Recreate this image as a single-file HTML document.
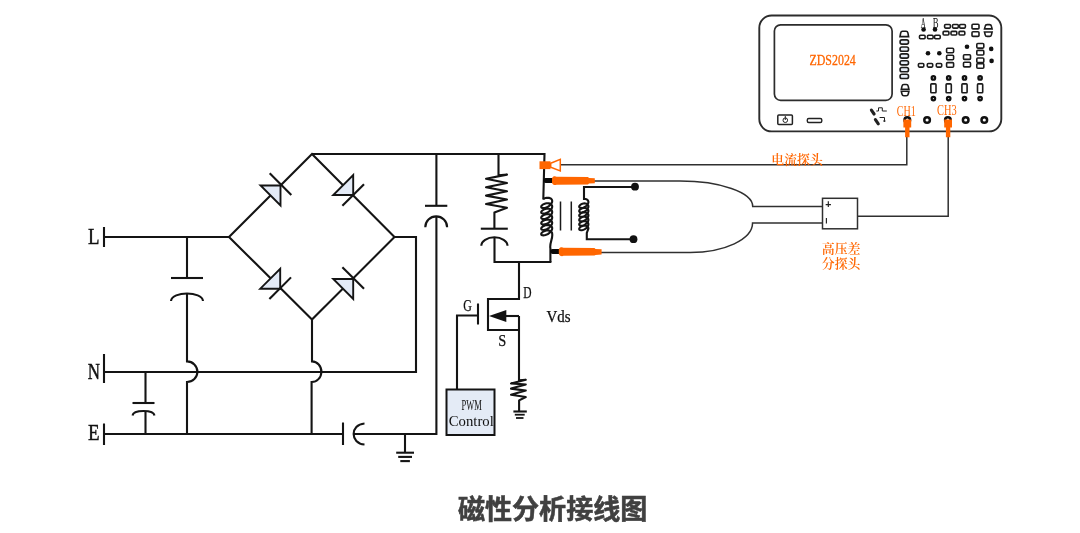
<!DOCTYPE html>
<html lang="zh-CN">
<head>
<meta charset="utf-8">
<title>磁性分析接线图</title>
<style>
html,body{margin:0;padding:0;background:#fff;}
body{width:1080px;height:533px;overflow:hidden;position:relative;}
svg{display:block;position:absolute;left:0;top:0;will-change:transform;}
.w{fill:none;stroke:#141414;stroke-width:2.100;stroke-linecap:butt;stroke-linejoin:miter;}
.t{fill:none;stroke:#303030;stroke-width:1.500;}
.d{fill:#e3eaf6;stroke:#141414;stroke-width:1.9;stroke-linejoin:miter;}
.lat{font-family:"Liberation Serif","Noto Serif CJK SC",serif;fill:#111;}
.cjk{font-family:"Liberation Serif","Noto Serif CJK SC",serif;fill:#ff6600;font-weight:600;}
.ol{font-family:"Liberation Serif","Noto Serif CJK SC",serif;fill:#ff6600;font-weight:400;}
.or{fill:#ff6600;}
.sb{fill:#fff;stroke:#1c1c1c;stroke-width:1.6;}
.sbb{fill:#e6edf7;stroke:#1c1c1c;stroke-width:1.6;}
.dot{fill:#111;}
h1{position:absolute;left:0;top:489.700px;width:1105.300px;margin:0;text-align:center;font-family:"Liberation Sans","Noto Sans CJK SC",sans-serif;font-weight:700;font-size:27.070px;line-height:40px;color:#404040;letter-spacing:0;will-change:transform;-webkit-text-stroke:0.55px #404040;}
</style>
</head>
<body>
<svg width="1080" height="533" viewBox="0 0 1080 533">

<g class="w">
<path d="M104,227V247"/>
<path d="M104,237H229"/>
<path d="M229,237L312,154L394.5,237L312,319.5Z"/>
<path d="M312,154H544.500L543.300,199.500"/>
<path d="M394.5,237H416V372H104"/>
<path d="M104,354V383"/>
<path d="M104,423.5V445"/>
<path d="M104,434H343"/>
<path d="M343,422.5V445"/>
<path d="M187,237V278"/>
<path d="M171,278H203"/>
<path d="M171,301C172,291 202,291 203,301"/>
<path d="M187,293.5V361.400A10.4,10.3 0 0 1 187,382V434"/>
<path d="M312,319.5V361.400A9.600,10.3 0 0 1 311.600,382V434"/>
<path d="M145.5,372V403"/>
<path d="M132.5,403H154.5"/>
<path d="M132.5,415.5C133.5,409.5 153.5,409.5 154.5,415.5"/>
<path d="M145.5,411V434"/>
<path d="M436.400,154V205.800"/>
<path d="M425,205.800H447.300"/>
<path d="M425.300,227.200A10.900,10.800 0 0 1 447.100,227.200"/>
<path d="M436.400,216.400V434H354"/>
<path d="M364.5,423.5C350,424.5 350,443.5 364.5,444.5"/>
<path d="M405,434V452.700"/>
<path d="M396.200,452.700H414"/>
<path d="M398.200,456.900H412"/>
<path d="M400.300,461.100H409.900"/>
<path stroke-linejoin="round" d="M498.5,154V175.200L507,174.600L486,178.700L507,183L486,187.200L507,191.300L486,195.600L507,199.500L486,204L507,207.800L494.400,212.400V228.5"/>
<path d="M480.800,228.700H507.800"/>
<path d="M481.300,245.800A13.100,8.500 0 0 1 507.500,245.800"/>
<path d="M494.5,237.300V262H551.400"/>
<path d="M519,262V299H488V330H519"/>
<path d="M519,316H505"/>
<path d="M519,316V380.300L525.800,379.800L511,383.400L525.800,384.500L511,388.600L525.800,390.600L511,394.700L525.800,397L519.100,400.400V411.500" stroke-linejoin="round"/>
<path d="M513.400,411.500H526.800"/>
<path d="M514.800,414.700H524.700" stroke-width="1.8"/>
<path d="M516,418H523.500" stroke-width="1.8"/>
<path d="M478,303.5V324.500"/>
<path d="M478,315.500H457V390"/>
</g>
<path d="M489,316L506.300,309.900V322.100Z" fill="#111"/>
<path class="d" d="M280.50,185.50L280.50,205.44L260.56,185.50Z"/><path class="w" stroke-width="1.9" d="M291.32,194.92L269.68,173.28"/>
<path class="d" d="M353.20,195.00L333.26,195.00L353.20,175.06Z"/><path class="w" stroke-width="1.9" d="M342.38,205.82L364.02,184.18"/>
<path class="d" d="M280.20,288.70L260.26,288.70L280.20,268.76Z"/><path class="w" stroke-width="1.9" d="M269.38,299.02L291.02,277.38"/>
<path class="d" d="M353.20,279.00L353.20,298.94L333.26,279.00Z"/><path class="w" stroke-width="1.9" d="M364.02,288.82L342.38,267.18"/>
<rect x="446.5" y="389.500" width="48" height="45.500" fill="#e4ebf6" stroke="#141414" stroke-width="2"/>
<path class="w" stroke-width="2" stroke-linejoin="round" d="M543.20,198.96 L544.23,198.46 L545.39,198.08 L546.61,197.84 L547.84,197.77 L549.01,197.89 L550.06,198.19 L550.94,198.67 L551.62,199.32 L552.04,200.12 L552.20,201.02 L552.08,202.01 L551.69,203.03 L551.05,204.05 L550.20,205.03 L549.16,205.92 L548.01,206.69 L546.78,207.32 L545.56,207.77 L544.39,208.05 L543.34,208.13 L542.45,208.04 L541.78,207.78 L541.36,207.37 L541.20,206.85 L541.32,206.26 L541.71,205.62 L542.35,204.99 L543.21,204.41 L544.24,203.91 L545.40,203.52 L546.62,203.29 L547.85,203.22 L549.02,203.34 L550.07,203.65 L550.95,204.13 L551.62,204.78 L552.05,205.58 L552.20,206.49 L552.08,207.47 L551.69,208.50 L551.04,209.52 L550.18,210.49 L549.15,211.38 L547.99,212.15 L546.77,212.77 L545.54,213.23 L544.38,213.50 L543.32,213.58 L542.44,213.49 L541.77,213.22 L541.35,212.82 L541.20,212.30 L541.32,211.70 L541.72,211.07 L542.36,210.44 L543.22,209.85 L544.26,209.35 L545.42,208.97 L546.64,208.74 L547.86,208.67 L549.03,208.79 L550.08,209.10 L550.96,209.59 L551.63,210.24 L552.05,211.04 L552.20,211.95 L552.07,212.93 L551.68,213.96 L551.04,214.98 L550.17,215.95 L549.14,216.84 L547.98,217.61 L546.75,218.23 L545.53,218.68 L544.36,218.95 L543.31,219.03 L542.43,218.93 L541.77,218.67 L541.35,218.26 L541.20,217.74 L541.33,217.14 L541.72,216.51 L542.37,215.88 L543.23,215.29 L544.27,214.80 L545.43,214.42 L546.65,214.19 L547.88,214.12 L549.04,214.25 L550.09,214.56 L550.97,215.04 L551.64,215.70 L552.05,216.50 L552.20,217.41 L552.07,218.40 L551.67,219.42 L551.03,220.44 L550.16,221.41 L549.12,222.30 L547.96,223.07 L546.74,223.69 L545.51,224.14 L544.35,224.40 L543.30,224.48 L542.42,224.38 L541.76,224.11 L541.35,223.71 L541.20,223.18 L541.33,222.59 L541.73,221.95 L542.38,221.32 L543.24,220.74 L544.28,220.24 L545.44,219.86 L546.67,219.63 L547.89,219.57 L549.06,219.70 L550.10,220.01 L550.98,220.50 L551.64,221.16 L552.06,221.96 L552.20,222.87 L552.07,223.86 L551.67,224.88 L551.02,225.90 L550.15,226.87 L549.11,227.76 L547.95,228.53 L546.73,229.14 L545.50,229.59 L544.34,229.85 L543.29,229.93 L542.41,229.83 L541.75,229.56 L541.34,229.15 L541.20,228.63 L541.33,228.03 L541.74,227.39 L542.39,226.76 L543.26,226.18 L544.30,225.68 L545.46,225.31 L546.68,225.08 L547.91,225.03 L549.07,225.15 L550.12,225.46 L550.99,225.96 L551.65,226.62 L552.06,227.42 L552.20,228.33 L552.07,229.32 L551.66,230.34 L551.01,231.36 L550.14,232.33 L549.10,233.22 L547.93,233.98 L546.71,234.60 L545.49,235.04 L544.32,235.31 L543.28,235.38 L542.41,235.28 L541.75,235.01 L541.34,234.59 L541.20,234.07 L541.34,233.47 L541.74,232.84 L542.40,232.21 L543.27,231.62 L544.31,231.13 L545.47,230.75 L546.70,230.53 L547.92,230.48 L549.08,230.60 L550.13,230.92 L551.00,231.41 L551.65,232.08 L552.06,232.88 L552.20,233.79 C553.00,238.79 549.3,243 550.400,248.500V262"/>
<path d="M560.500,201.500V230.500M571.300,201.500V230.500" fill="none" stroke="#1a1a1a" stroke-width="1.5"/>
<path class="w" stroke-width="1.9" stroke-linejoin="round" d="M583.34,199.06 L584.37,198.96 L585.38,199.02 L586.30,199.25 L587.10,199.65 L587.73,200.19 L588.17,200.87 L588.38,201.65 L588.36,202.51 L588.11,203.41 L587.65,204.31 L586.99,205.18 L586.17,205.98 L585.23,206.67 L584.22,207.24 L583.19,207.65 L582.19,207.90 L581.27,207.99 L580.47,207.91 L579.85,207.68 L579.42,207.31 L579.22,206.84 L579.24,206.30 L579.50,205.72 L579.97,205.14 L580.63,204.59 L581.46,204.11 L582.40,203.74 L583.41,203.50 L584.45,203.41 L585.45,203.49 L586.36,203.73 L587.15,204.13 L587.77,204.68 L588.19,205.37 L588.39,206.16 L588.35,207.03 L588.09,207.93 L587.61,208.83 L586.94,209.69 L586.11,210.48 L585.16,211.17 L584.15,211.72 L583.12,212.12 L582.12,212.36 L581.21,212.44 L580.42,212.35 L579.81,212.10 L579.40,211.73 L579.21,211.26 L579.25,210.71 L579.52,210.13 L580.01,209.55 L580.69,209.00 L581.52,208.53 L582.47,208.17 L583.49,207.94 L584.52,207.86 L585.51,207.95 L586.42,208.20 L587.20,208.61 L587.81,209.18 L588.21,209.87 L588.39,210.67 L588.34,211.54 L588.06,212.44 L587.57,213.34 L586.88,214.20 L586.05,214.98 L585.09,215.66 L584.08,216.20 L583.04,216.60 L582.05,216.82 L581.15,216.88 L580.37,216.78 L579.78,216.53 L579.38,216.15 L579.21,215.67 L579.27,215.12 L579.55,214.53 L580.05,213.95 L580.74,213.42 L581.59,212.95 L582.54,212.60 L583.56,212.38 L584.59,212.31 L585.58,212.41 L586.48,212.67 L587.25,213.10 L587.84,213.67 L588.23,214.38 L588.39,215.18 L588.33,216.05 L588.03,216.96 L587.53,217.85 L586.83,218.71 L585.98,219.49 L585.02,220.15 L584.00,220.69 L582.97,221.07 L581.98,221.28 L581.09,221.33 L580.33,221.22 L579.74,220.96 L579.36,220.57 L579.20,220.08 L579.28,219.53 L579.58,218.94 L580.10,218.36 L580.80,217.83 L581.65,217.38 L582.61,217.03 L583.63,216.82 L584.66,216.76 L585.65,216.87 L586.54,217.15 L587.30,217.59 L587.88,218.17 L588.25,218.88 L588.40,219.69 L588.31,220.57 L588.00,221.47 L587.48,222.37 L586.77,223.22 L585.92,223.99 L584.95,224.65 L583.93,225.17 L582.90,225.54 L581.92,225.74 L581.03,225.78 L580.28,225.66 L579.71,225.38 L579.34,224.99 L579.20,224.49 L579.29,223.94 L579.61,223.35 L580.14,222.77 L580.85,222.25 L581.72,221.80 L582.68,221.46 L583.71,221.26 L584.74,221.22 L585.72,221.34 L586.60,221.62 L587.35,222.07 L587.91,222.67 L588.27,223.39 L588.40,224.20 L588.30,225.08 L587.97,225.98 L587.44,226.88 L586.72,227.72 L585.85,228.49 L584.88,229.14 L583.86,229.65 L582.83,230.01 L581.85,230.20 L580.97,230.23 L580.23,230.09 L579.67,229.81 L579.32,229.41 L579.20,228.91 L579.31,228.35 L579.64,227.76 L580.19,227.19 L580.91,226.66 L581.78,226.22 L582.76,225.89 L583.78,225.70 L584.81,225.67 L585.78,225.80 L586.66,226.10 L587.39,226.56 L587.94,227.17 L588.28,227.89 L588.40,228.71 L586.8,233V239.200H634"/>
<path class="w" stroke-width="1.800" d="M635,187H584V200"/>
<circle class="dot" cx="635" cy="186.700" r="3.900"/>
<circle class="dot" cx="633.500" cy="239.200" r="3.900"/>
<g class="t">
<path d="M560.500,164.800H906.800V136"/>
<path d="M594,181.100H680A72.700,25.300 0 0 1 752.700,206.400H822.500"/>
<path d="M600,252.500H690A62.500,29.400 0 0 0 752.550,223.070H822.500"/>
<path d="M857.500,216.300H948.200V136"/>
<rect x="822.500" y="198.300" width="35" height="30.500" fill="#fff"/>
</g>
<text x="828.2" y="207.600" text-anchor="middle" font-family="Liberation Sans,sans-serif" font-size="10.5" font-weight="700" fill="#222">+</text>
<text x="823.4" y="221.300" font-family="Liberation Sans,sans-serif" font-size="14" fill="#222" textLength="7.6" lengthAdjust="spacingAndGlyphs" transform="rotate(90 827.2 221.3) translate(-0.4 4.9)">-</text>
<rect class="or" x="539.500" y="161.300" width="11" height="7.800"/>
<path d="M550.700,163.300L560.300,159.400V171L550.700,167.200Z" fill="#fff" stroke="#ff6600" stroke-width="1.500" stroke-linejoin="miter"/>
<path d="M545.500,180.500H554" stroke="#0a0a0a" stroke-width="4.800" stroke-linecap="round" fill="none"/>
<path class="or" d="M552,178.500C552.500,176 555.500,175.900 556.500,176.800L588,177L589,178L594.800,178.300V183.200L589,183.600L588,184.500L556.500,184.700C555.500,185.500 552.500,185.300 552,182.800Z"/>
<path d="M552.500,251.500H561" stroke="#0a0a0a" stroke-width="4.800" stroke-linecap="round" fill="none"/>
<path class="or" d="M558.800,249.500C559.300,246.800 562.500,246.800 563.500,247.700L594.500,248L595.500,249L601.600,249.300V254.600L595.500,254.900L594.500,255.600L563.500,255.700C562.500,256.500 559.300,256.400 558.800,253.500Z"/>
<rect x="759.300" y="15.500" width="242" height="115.900" rx="12.300" ry="12.300" fill="#fff" stroke="#2c2c2c" stroke-width="1.900"/>
<rect x="774.400" y="24.900" width="117.700" height="75.400" rx="6.200" ry="6.200" fill="#fff" stroke="#2c2c2c" stroke-width="1.700"/>
<rect x="777.800" y="115" width="14.600" height="9.400" rx="1" fill="#fff" stroke="#222" stroke-width="1.500"/>
<circle cx="785.300" cy="120.200" r="2.300" fill="none" stroke="#222" stroke-width="1"/>
<path d="M785.300,116V120" stroke="#222" stroke-width="1" fill="none"/>
<rect x="807.300" y="118.500" width="14.500" height="4" rx="1.500" fill="#fff" stroke="#222" stroke-width="1.400"/>
<path d="M871.400,110.100L874.100,114M875.400,119.600L878.300,123.800" stroke="#222" stroke-width="3.100" stroke-linecap="round" fill="none"/>
<path d="M876.300,111H878.500V107.800H882.300V111H886.800" stroke="#222" stroke-width="1" fill="none"/>
<path d="M879.600,117.500H884.500V120.500" stroke="#222" stroke-width="1" fill="none"/>
<circle cx="884.400" cy="121" r="1.100" fill="#222"/>
<path class="sb" d="M900.0,36.6L900.7,32.8Q901.0,31.2 902.6,31.2H906.0Q907.6,31.2 907.9,32.8L908.6,36.6Z"/>
<rect class="sbb" x="900.1" y="39.9" width="8.4" height="4.2" rx="1.8"/>
<rect class="sbb" x="900.1" y="47.0" width="8.4" height="4.2" rx="1.8"/>
<rect class="sbb" x="900.1" y="53.9" width="8.4" height="4.2" rx="1.8"/>
<rect class="sbb" x="900.1" y="60.7" width="8.4" height="4.2" rx="1.8"/>
<rect class="sbb" x="900.1" y="67.5" width="8.4" height="4.2" rx="1.8"/>
<rect class="sbb" x="900.1" y="74.3" width="8.4" height="4.2" rx="1.8"/>
<path class="sb" d="M901.3,89.3L902.0,86.1Q902.3,84.5 903.9,84.5H906.3Q907.9,84.5 908.2,86.1L908.9,89.3Z"/>
<path class="sb" d="M901.3,91.2L902.0,94.2Q902.3,95.8 903.9,95.8H906.3Q907.9,95.8 908.2,94.2L908.9,91.2Z"/>
<circle class="dot" cx="923.600" cy="29.500" r="2.300"/><circle class="dot" cx="935" cy="29.500" r="2.300"/>
<rect class="sb" x="919.5" y="35.2" width="5.6" height="3.6" rx="1.0"/>
<rect class="sb" x="927.5" y="35.2" width="5.6" height="3.6" rx="1.0"/>
<rect class="sb" x="934.6" y="35.2" width="5.6" height="3.6" rx="1.0"/>
<rect class="sb" x="944.6" y="24.5" width="5.8" height="3.6" rx="1.0"/>
<rect class="sb" x="952.5" y="24.5" width="5.8" height="3.6" rx="1.0"/>
<rect class="sb" x="959.6" y="24.5" width="5.8" height="3.6" rx="1.0"/>
<rect class="sb" x="943.1" y="31.4" width="5.8" height="3.6" rx="1.0"/>
<rect class="sb" x="951.0" y="31.4" width="5.8" height="3.6" rx="1.0"/>
<rect class="sb" x="959.0" y="31.4" width="5.8" height="3.6" rx="1.0"/>
<rect class="sb" x="972.0" y="24.3" width="7.0" height="4.6" rx="1.0"/>
<rect class="sb" x="972.0" y="31.8" width="7.0" height="4.6" rx="1.0"/>
<path class="sb" d="M984.5,28.9L985.2,26.2Q985.5,24.6 987.1,24.6H989.5Q991.1,24.6 991.4,26.2L992.1,28.9Z"/>
<path class="sb" d="M984.5,32.0L985.2,34.8Q985.5,36.4 987.1,36.4H989.5Q991.1,36.4 991.4,34.8L992.1,32.0Z"/>
<circle class="dot" cx="928.0" cy="53.3" r="2.300"/>
<circle class="dot" cx="939.3" cy="53.3" r="2.300"/>
<circle class="dot" cx="967.0" cy="46.8" r="2.300"/>
<circle class="dot" cx="991.2" cy="48.9" r="2.300"/>
<circle class="dot" cx="991.6" cy="60.9" r="2.300"/>
<rect class="sb" x="946.6" y="48.2" width="7.0" height="4.6" rx="1.0"/>
<rect class="sb" x="946.6" y="55.2" width="7.0" height="4.6" rx="1.0"/>
<rect class="sb" x="946.6" y="62.6" width="7.0" height="4.6" rx="1.0"/>
<rect class="sb" x="963.5" y="54.8" width="7.0" height="4.6" rx="1.0"/>
<rect class="sb" x="963.5" y="62.3" width="7.0" height="4.6" rx="1.0"/>
<rect class="sb" x="976.8" y="43.5" width="7.0" height="4.6" rx="1.0"/>
<rect class="sb" x="976.8" y="50.4" width="7.0" height="4.6" rx="1.0"/>
<rect class="sb" x="976.8" y="58.0" width="7.0" height="4.6" rx="1.0"/>
<rect class="sb" x="976.8" y="63.6" width="7.0" height="4.6" rx="1.0"/>
<rect class="sb" x="918.4" y="63.5" width="5.4" height="3.6" rx="1.0"/>
<rect class="sb" x="927.3" y="63.5" width="5.4" height="3.6" rx="1.0"/>
<rect class="sb" x="936.3" y="63.5" width="5.4" height="3.6" rx="1.0"/>
<circle cx="933.4" cy="77.900" r="1.700" fill="#fff" stroke="#111" stroke-width="2.300"/>
<rect class="sb" x="930.8" y="83.9" width="5.2" height="8.8" rx="0.8"/>
<circle cx="933.4" cy="98.600" r="1.700" fill="#fff" stroke="#111" stroke-width="2.300"/>
<circle cx="948.7" cy="77.900" r="1.700" fill="#fff" stroke="#111" stroke-width="2.300"/>
<rect class="sb" x="946.1" y="83.9" width="5.2" height="8.8" rx="0.8"/>
<circle cx="948.7" cy="98.600" r="1.700" fill="#fff" stroke="#111" stroke-width="2.300"/>
<circle cx="964.5" cy="77.900" r="1.700" fill="#fff" stroke="#111" stroke-width="2.300"/>
<rect class="sb" x="961.9" y="83.9" width="5.2" height="8.8" rx="0.8"/>
<circle cx="964.5" cy="98.600" r="1.700" fill="#fff" stroke="#111" stroke-width="2.300"/>
<circle cx="980.1" cy="77.900" r="1.700" fill="#fff" stroke="#111" stroke-width="2.300"/>
<rect class="sb" x="977.5" y="83.9" width="5.2" height="8.8" rx="0.8"/>
<circle cx="980.1" cy="98.600" r="1.700" fill="#fff" stroke="#111" stroke-width="2.300"/>
<circle cx="907.3" cy="120" r="2.800" fill="#fff" stroke="#111" stroke-width="2.500"/>
<circle cx="927.1" cy="120" r="2.800" fill="#fff" stroke="#111" stroke-width="2.500"/>
<circle cx="947.9" cy="120" r="2.800" fill="#fff" stroke="#111" stroke-width="2.500"/>
<circle cx="965.7" cy="120" r="2.800" fill="#fff" stroke="#111" stroke-width="2.500"/>
<circle cx="984.3" cy="120" r="2.800" fill="#fff" stroke="#111" stroke-width="2.500"/>
<path class="or" d="M903.4,119.600H911.2V127.400H909.5V137.200H905.1V127.400H903.4Z"/>
<path class="or" d="M944.2,119.600H952.0V127.400H950.3V137.200H945.9V127.400H944.2Z"/>
<text class="lat" x="88.1" y="243.8" font-size="23.3" textLength="11.5" lengthAdjust="spacingAndGlyphs" stroke="#111" stroke-width="0.45">L</text>
<text class="lat" x="87.8" y="378.5" font-size="22.8" textLength="12.2" lengthAdjust="spacingAndGlyphs" stroke="#111" stroke-width="0.45">N</text>
<text class="lat" x="88.1" y="440.4" font-size="23.3" textLength="11.6" lengthAdjust="spacingAndGlyphs" stroke="#111" stroke-width="0.45">E</text>
<text class="lat" x="463.2" y="311.2" font-size="16" textLength="8.6" lengthAdjust="spacingAndGlyphs" stroke="#111" stroke-width="0.25">G</text>
<text class="lat" x="523.3" y="298.4" font-size="16" textLength="8.3" lengthAdjust="spacingAndGlyphs" stroke="#111" stroke-width="0.25">D</text>
<text class="lat" x="498.3" y="346.2" font-size="16.5" textLength="8" lengthAdjust="spacingAndGlyphs" stroke="#111" stroke-width="0.25">S</text>
<text class="lat" x="546.5" y="321.6" font-size="16" textLength="24" lengthAdjust="spacingAndGlyphs" stroke="#111" stroke-width="0.25">Vds</text>
<text class="lat" x="461.6" y="410.4" font-size="15.5" textLength="20.3" lengthAdjust="spacingAndGlyphs" >PWM</text>
<text class="lat" x="448.8" y="425.8" font-size="15" textLength="45" lengthAdjust="spacingAndGlyphs" >Control</text>
<text class="lat" x="920.7" y="27.6" font-size="14" textLength="5.0" lengthAdjust="spacingAndGlyphs" >A</text>
<text class="lat" x="932.7" y="27.6" font-size="14" textLength="5.8" lengthAdjust="spacingAndGlyphs" >B</text>
<text class="ol" x="809.5" y="64.7" font-size="15" textLength="46.3" lengthAdjust="spacingAndGlyphs" stroke="#ff6600" stroke-width="0.3">ZDS2024</text>
<text class="ol" x="896.8" y="116" font-size="14" textLength="19" lengthAdjust="spacingAndGlyphs" >CH1</text>
<text class="ol" x="937" y="114.7" font-size="14" textLength="19.6" lengthAdjust="spacingAndGlyphs" >CH3</text>
<text class="cjk" x="771.3" y="163.8" font-size="12.8" textLength="51.5" lengthAdjust="spacingAndGlyphs" >电流探头</text>
<text class="cjk" x="821.8" y="253" font-size="12.8" textLength="38.5" lengthAdjust="spacingAndGlyphs" >高压差</text>
<text class="cjk" x="821.8" y="268.2" font-size="12.8" textLength="38.5" lengthAdjust="spacingAndGlyphs" >分探头</text>
</svg>
<h1>磁性分析接线图</h1>
</body>
</html>
